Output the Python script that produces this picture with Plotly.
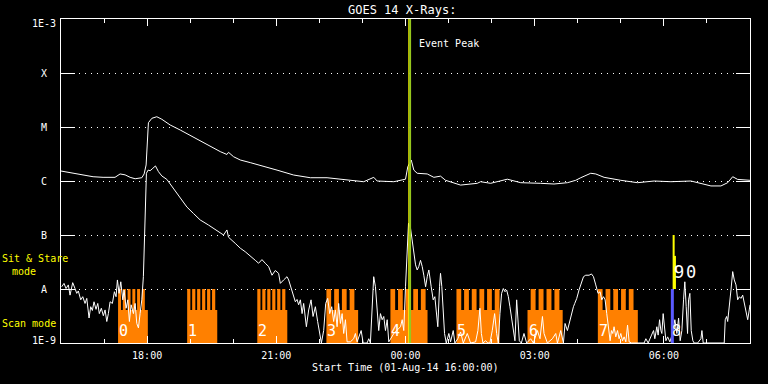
import numpy as np
import pandas as pd
import plotly.graph_objects as go

START = pd.Timestamp("2014-08-01 16:00:00")
END = pd.Timestamp("2014-08-02 08:00:00")

# ---- GOES long channel (1-8 A), minutes after start / flux W m^-2
long_min = [0, 12.6, 26.5, 44.7, 58.6, 75.3, 82.3, 89.3, 96.3, 103.3,
            112.6, 115.8, 118.6, 120.4, 121.8, 126.6, 133.5, 140.5, 152.1, 166.1,
            184.6, 203.3, 221.9, 231.2, 233.4, 240.4, 249.8, 263.7, 282.3, 301.0,
            324.1, 347.4, 370.7, 393.9, 421.8, 435.8, 440.5, 463.7, 480.0, 483.2,
            488.0, 491.6, 496.3, 510.3, 519.5, 528.8, 535.8, 556.7, 580.0, 584.6,
            598.6, 621.9, 640.5, 668.4, 686.9, 705.6, 717.2, 724.2, 738.1, 745.1,
            756.7, 780.0, 803.3, 826.5, 849.8, 877.7, 896.2, 905.6, 919.5, 928.9,
            935.9, 942.8, 960.0]
long_flux = [1.53e-6, 1.43e-6, 1.35e-6, 1.20e-6, 1.17e-6, 1.17e-6, 1.35e-6, 1.30e-6, 1.17e-6, 1.10e-6,
             1.15e-6, 1.35e-6, 1.98e-6, 7.6e-6, 1.20e-5, 1.45e-5, 1.55e-5, 1.39e-5, 1.09e-5, 8.8e-6,
             6.45e-6, 4.64e-6, 3.50e-6, 3.10e-6, 3.40e-6, 2.82e-6, 2.45e-6, 2.19e-6, 1.84e-6, 1.59e-6,
             1.29e-6, 1.15e-6, 1.15e-6, 1.07e-6, 9.7e-7, 1.17e-6, 1.00e-6, 9.7e-7, 1.08e-6, 1.84e-6,
             2.45e-6, 1.59e-6, 1.39e-6, 1.35e-6, 1.17e-6, 1.23e-6, 1.03e-6, 8.4e-7, 9.06e-7, 9.7e-7,
             9.06e-7, 1.08e-6, 9.3e-7, 9.06e-7, 8.8e-7, 9.3e-7, 1.03e-6, 1.15e-6, 1.39e-6, 1.35e-6,
             1.17e-6, 1.03e-6, 9.3e-7, 1.00e-6, 9.7e-7, 1.00e-6, 8.8e-7, 8.1e-7, 8.1e-7, 9.3e-7,
             1.20e-6, 1.07e-6, 1.03e-6]

# ---- GOES short channel (0.5-4 A)
short_min = [
    1.0, 4.2, 7.0, 10.2, 12.6, 16.3, 19.5, 21.9, 24.1, 27.5,
    30.3, 33.5, 35.9, 39.1, 41.4, 43.7, 46.0, 48.8, 51.2, 53.4,
    56.2, 59.0, 61.4, 63.8, 66.0, 68.4, 71.6, 74.4, 76.7, 78.6,
    80.9, 83.3, 86.1, 87.9, 90.7, 93.1, 95.3, 97.7, 100.9, 103.3,
    105.6, 107.9, 110.2, 112.6, 114.8, 116.2, 117.6, 119.0,
    121.4, 124.2, 128.0, 131.6, 135.8, 140.5, 147.5, 156.7, 166.0, 175.4,
    184.6, 193.9, 205.5, 217.3, 226.5, 231.2, 233.4, 242.8, 249.8, 256.7,
    263.7, 270.7, 275.3, 280.0, 284.6, 289.3, 294.0, 298.6, 303.2, 305.6,
    310.2, 314.9, 317.2, 321.9,
    326.5, 328.9, 331.1, 333.5, 335.9, 338.1, 341.9, 345.1, 348.4, 351.2,
    354.4, 357.6, 360.4, 362.8, 366.0, 368.8, 371.6, 374.4, 377.2, 379.9,
    382.3, 384.7, 386.9, 389.3, 391.7, 393.9, 396.3, 398.6, 403.2, 407.8,
    410.2, 412.6, 418.2, 421.0, 426.5, 428.8, 431.1, 433.5, 435.7, 438.1,
    440.5, 442.7, 445.1, 447.5, 449.7, 452.1, 454.5, 456.7, 463.7, 468.4,
    473.0,
    475.4, 477.6, 480.0, 482.4, 484.2, 487.0, 489.3, 491.6, 494.0, 496.3,
    498.5, 500.9, 503.3, 505.5, 508.0, 510.3, 512.5, 515.8, 518.6, 520.9,
    523.2, 525.0, 527.4, 528.8, 530.6, 532.6, 534.4, 536.8, 540.4, 542.8,
    546.5, 548.8, 552.9, 556.7, 560.5, 566.1, 570.7, 577.7, 580.9, 583.7,
    585.7, 587.9, 591.6, 594.8, 597.6, 600.9, 604.2, 607.0, 609.3, 611.6,
    613.9, 616.3, 618.6, 620.9, 623.3, 625.5, 627.9, 630.3, 632.5, 634.9,
    636.7, 638.6, 641.4, 645.1, 648.8, 654.4, 658.2, 663.8, 667.4, 670.8,
    673.0, 677.7, 684.7, 689.3, 691.7, 696.3, 700.0, 702.3, 705.6, 710.2,
    714.0,
    715.8, 718.6, 721.8, 725.2, 728.0, 731.1, 735.8, 739.1, 741.9, 745.1,
    748.3, 751.1, 753.5, 755.9, 758.1, 760.4, 762.8, 765.1, 767.0, 768.8,
    770.6, 773.0, 775.4, 777.6, 780.0, 782.4, 784.6, 787.0, 789.4, 791.6,
    794.9, 803.3, 812.5, 814.9, 818.1, 822.8, 825.6, 827.4, 830.2, 832.0,
    834.0, 835.8, 837.2, 839.0, 841.0, 842.8, 845.2, 848.4, 852.1, 855.3,
    858.1, 860.5, 862.7, 865.1, 867.4, 869.2, 871.1, 873.0, 874.4, 876.2,
    878.1, 880.4, 882.2, 887.0, 891.6, 893.0, 894.8, 901.0, 907.9, 914.9,
    921.9, 924.1, 925.5, 927.5, 928.9, 931.1, 933.5, 935.9, 938.1, 940.5,
    942.8, 945.1, 947.4, 949.8, 952.1, 954.4, 956.8, 959.0, 960.0]
short_flux = [
    1.1e-8, 1.27e-8, 1.02e-8, 1.19e-8, 7.7e-9, 1.31e-8, 1.02e-8, 8.3e-9, 9.2e-9, 6.3e-9,
    7.2e-9, 5.4e-9, 6.7e-9, 2.9e-9, 4.7e-9, 4.0e-9, 5.8e-9, 4.2e-9, 5.4e-9, 3.5e-9,
    4.4e-9, 3.2e-9, 4.1e-9, 2.5e-9, 3.5e-9, 5.8e-9, 5.4e-9, 8.9e-9, 7.2e-9, 1.47e-8,
    8.3e-9, 1.36e-8, 6.3e-9, 9.6e-9, 4.4e-9, 6.3e-9, 2.5e-9, 5.1e-9, 3.5e-9, 5.4e-9,
    2.3e-9, 1.9e-9, 3.5e-9, 6.3e-9, 1.69e-8, 7.0e-8, 4.4e-7, 1.39e-6,
    1.59e-6, 1.55e-6, 1.72e-6, 1.9e-6, 1.49e-6, 1.24e-6, 1.07e-6, 7.3e-7, 4.8e-7, 3.3e-7,
    2.5e-7, 1.9e-7, 1.53e-7, 1.2e-7, 1.0e-7, 1.24e-7, 9.1e-8, 7.0e-8, 5.7e-8, 4.9e-8,
    4.0e-8, 3.4e-8, 3.0e-8, 3.5e-8, 3.0e-8, 2.6e-8, 1.8e-8, 2.2e-8, 1.95e-8, 1.27e-8,
    1.47e-8, 1.69e-8, 1.47e-8, 8.9e-9,
    5.8e-9, 6.4e-9, 5.1e-9, 6.3e-9, 3.5e-9, 5.4e-9, 2.0e-9, 4.1e-9, 6.3e-9, 3.1e-9,
    4.7e-9, 2.5e-9, 1.5e-9, 1.0e-9, 1.7e-9, 5.4e-9, 6.7e-9, 3.5e-9, 4.7e-9, 2.5e-9,
    4.1e-9, 2.0e-9, 5.4e-9, 2.3e-9, 3.5e-9, 1.5e-9, 2.7e-9, 1.05e-9, 1.05e-9, 1.2e-9,
    1.5e-9, 1.05e-9, 1.7e-9, 1.0e-9, 1.0e-9, 1.2e-9, 1.0e-9, 3.5e-9, 1.69e-8, 1.1e-8,
    3.5e-9, 1.7e-9, 3.5e-9, 2.7e-9, 3.1e-9, 1.7e-9, 2.7e-9, 1.05e-9, 1.5e-9, 1.7e-9,
    2.0e-9,
    2.7e-9, 1.7e-9, 1.1e-8, 7.0e-8, 1.65e-7, 1.33e-7, 8.1e-8, 4.0e-8, 2.8e-8, 2.25e-8,
    2.6e-8, 3.4e-8, 2.6e-8, 1.8e-8, 1.1e-8, 1.69e-8, 2.25e-8, 1.1e-8, 6.3e-9, 7.2e-9,
    3.5e-9, 2.0e-9, 1.1e-8, 1.95e-8, 1.1e-8, 3.5e-9, 1.5e-9, 1.0e-9, 1.5e-9, 1.05e-9,
    1.7e-9, 1.0e-9, 1.2e-9, 1.6e-9, 1.0e-9, 1.5e-9, 1.0e-9, 1.05e-9, 1.7e-9, 4.4e-9,
    1.5e-9, 1.0e-9, 1.1e-9, 1.0e-9, 1.0e-9, 1.7e-9, 3.5e-9, 1.5e-9, 1.0e-9, 3.5e-9,
    8.3e-9, 1.02e-8, 8.9e-9, 9.6e-9, 7.2e-9, 4.7e-9, 2.7e-9, 1.5e-9, 1.1e-9, 6.3e-9,
    2.7e-9, 1.1e-9, 1.0e-9, 1.5e-9, 1.0e-9, 1.2e-9, 1.0e-9, 1.7e-9, 1.2e-9, 3.1e-9,
    1.5e-9, 1.0e-9, 1.2e-9, 1.5e-9, 1.0e-9, 1.7e-9, 1.0e-9, 2.3e-9, 1.7e-9, 3.1e-9,
    4.7e-9,
    5.4e-9, 6.7e-9, 9.6e-9, 1.27e-8, 1.69e-8, 1.8e-8, 1.8e-8, 1.9e-8, 1.69e-8, 1.19e-8,
    8.3e-9, 8.9e-9, 6.3e-9, 7.2e-9, 6.3e-9, 3.5e-9, 2.0e-9, 1.1e-9, 1.7e-9, 1.5e-9,
    2.0e-9, 1.3e-9, 1.7e-9, 1.2e-9, 1.5e-9, 1.1e-9, 1.3e-9, 1.05e-9, 2.15e-9, 1.05e-9,
    1.0e-9, 1.0e-9, 1.0e-9, 1.2e-9, 1.0e-9, 1.4e-9, 1.7e-9, 1.2e-9, 2.0e-9, 1.4e-9,
    2.7e-9, 1.7e-9, 1.5e-9, 3.5e-9, 1.7e-9, 1.1e-9, 1.3e-9, 1.05e-9, 1.5e-9, 2.7e-9,
    1.5e-9, 2.9e-9, 1.1e-9, 1.7e-9, 6.3e-9, 1.36e-8, 4.7e-9, 1.5e-9, 6.3e-9, 8.3e-9,
    1.7e-9, 1.1e-9, 1.0e-9, 1.0e-9, 1.2e-9, 1.7e-9, 1.0e-9, 1.0e-9, 1.0e-9, 1.0e-9,
    1.0e-9, 1.0e-9, 2.7e-9, 3.1e-9, 2.5e-9, 4.4e-9, 9.6e-9, 2.1e-8, 1.47e-8, 1.19e-8,
    6.3e-9, 7.2e-9, 6.7e-9, 7.7e-9, 5.4e-9, 4.1e-9, 2.7e-9, 4.1e-9, 5.1e-9]

# ---- observing-mode blocks (minutes after start)
block_labels = ["0", "1", "2", "3", "4", "5", "6", "7"]
scan_start_min = [79.5, 175.8, 273.5, 369.8, 459.0, 551.0, 650.0, 748.0]
scan_end_min = [121.0, 217.7, 315.3, 414.0, 510.7, 611.0, 699.0, 803.7]
stare_start_min = [79.5, 175.8, 273.5, 369.8, 459.0, 551.0, 654.4, 748.0]
stare_end_min = [116.8, 214.9, 312.6, 408.8, 508.0, 611.0, 694.4, 797.7]
stare_steps = [6, 6, 6, 4, 5, 6, 4, 5]
stare_gap_min = [2.5, 2.5, 2.5, 4.2, 4.0, 4.0, 4.2, 4.2]
scan_level = 4.08e-9
stare_level = 1.0e-8
base_level = 5e-10

# ---- markers
event_start_min = 484.6
event_peak_min = 486.4
block8_min = 851.8
block8_top = 1.0e-8
marker_tall_min = 853.6
marker_tall_top = 1.0e-7
marker_short_min = 855.4
marker_short_top = 4.1e-8

ytick_vals = [-9, -8, -7, -6, -5, -4, -3]
ytick_text = ["1E-9", "A", "B", "C", "M", "X", "1E-3"]

FONT = "DejaVu Sans Mono"
ORANGE = "#ff8000"
GREEN = "#96c81e"


def tm(m):
    return START + pd.to_timedelta(np.asarray(m, dtype=float), unit="m")


fig = go.Figure()

for i in range(len(scan_start_min)):
    ss, se = scan_start_min[i], scan_end_min[i]
    cs, ce = stare_start_min[i], stare_end_min[i]
    n, g = stare_steps[i], stare_gap_min[i]
    w = (ce - cs - (n - 1) * g) / n
    xs = [ss]
    ys = [base_level]
    if cs > ss:
        xs += [ss, cs]
        ys += [scan_level, scan_level]
    for k in range(n):
        a = cs + k * (w + g)
        b = a + w
        xs += [a, a, b, b]
        ys += [scan_level, stare_level, stare_level, scan_level]
    xs += [se, se]
    ys += [scan_level, base_level]
    fig.add_trace(go.Scatter(x=tm(xs), y=ys, mode="lines", fill="toself",
                             fillcolor=ORANGE, line=dict(width=0, color=ORANGE),
                             hoverinfo="skip", showlegend=False))

fig.add_trace(go.Scatter(x=tm(long_min), y=long_flux, mode="lines",
                         line=dict(color="white", width=1), showlegend=False))
fig.add_trace(go.Scatter(x=tm(short_min), y=short_flux, mode="lines",
                         line=dict(color="white", width=1), showlegend=False))

fig.add_trace(go.Scatter(x=tm([block8_min, block8_min]), y=[base_level, block8_top],
                         mode="lines", line=dict(color="#5a5aff", width=3), showlegend=False))
fig.add_trace(go.Scatter(x=tm([marker_tall_min, marker_tall_min]), y=[stare_level, marker_tall_top],
                         mode="lines", line=dict(color="#ffff00", width=2), showlegend=False))
fig.add_trace(go.Scatter(x=tm([marker_short_min, marker_short_min]), y=[stare_level, marker_short_top],
                         mode="lines", line=dict(color="#ffff00", width=2), showlegend=False))

fig.add_shape(type="line", xref="x", yref="paper", x0=tm([event_start_min])[0], x1=tm([event_start_min])[0],
              y0=0, y1=1, line=dict(color="#ffff00", width=1))
fig.add_shape(type="line", xref="x", yref="paper", x0=tm([event_peak_min])[0], x1=tm([event_peak_min])[0],
              y0=0, y1=1, line=dict(color=GREEN, width=2))

ann = []
for v, t in zip(ytick_vals, ytick_text):
    if t.startswith("1E"):
        ann.append(dict(x=0, xref="paper", y=v, yref="y", text=t, showarrow=False,
                        xanchor="right", yanchor="middle", xshift=-3, yshift=(-4 if v == -3 else 3),
                        font=dict(family=FONT, size=10, color="white")))
    else:
        ann.append(dict(x=0, xref="paper", y=v, yref="y", text=t, showarrow=False,
                        xanchor="center", yanchor="middle", xshift=-17,
                        font=dict(family=FONT, size=10, color="white")))

ann.append(dict(x=0, xref="paper", y=(343 - 258) / 324, yref="paper", text="Sit & Stare",
                showarrow=False, xanchor="center", yanchor="middle", xshift=-26.5,
                font=dict(family=FONT, size=10, color="#ffff00")))
ann.append(dict(x=0, xref="paper", y=(343 - 271.5) / 324, yref="paper", text="mode",
                showarrow=False, xanchor="center", yanchor="middle", xshift=-37,
                font=dict(family=FONT, size=10, color="#ffff00")))
ann.append(dict(x=0, xref="paper", y=(343 - 323.5) / 324, yref="paper", text="Scan mode",
                showarrow=False, xanchor="center", yanchor="middle", xshift=-32.5,
                font=dict(family=FONT, size=10, color="#ffff00")))

for lab, s in zip(block_labels, scan_start_min):
    ann.append(dict(x=tm([s])[0], xref="x", y=(343 - 331) / 324, yref="paper", text=lab,
                    showarrow=False, xanchor="left", yanchor="middle", xshift=-1,
                    font=dict(family=FONT, size=15, color="white")))
ann.append(dict(x=tm([block8_min])[0], xref="x", y=(343 - 331) / 324, yref="paper", text="8",
                showarrow=False, xanchor="left", yanchor="middle", xshift=-2,
                font=dict(family=FONT, size=15, color="white")))
ann.append(dict(x=tm([block8_min])[0], xref="x", y=(343 - 272) / 324, yref="paper", text="9",
                showarrow=False, xanchor="left", yanchor="middle", xshift=0,
                font=dict(family=FONT, size=17, color="white")))
ann.append(dict(x=tm([block8_min])[0], xref="x", y=(343 - 272) / 324, yref="paper", text="0",
                showarrow=False, xanchor="left", yanchor="middle", xshift=12,
                font=dict(family=FONT, size=17, color="white")))

ann.append(dict(x=tm([event_peak_min])[0], xref="x", y=(343 - 43) / 324, yref="paper",
                text="Event Peak", showarrow=False, xanchor="left", yanchor="middle", xshift=7,
                font=dict(family=FONT, size=10, color="white")))
ann.append(dict(x=(402 - 61) / 689, xref="paper", y=1 + (19 - 10) / 324, yref="paper",
                text="GOES 14 X-Rays:", showarrow=False, xanchor="center", yanchor="middle",
                font=dict(family=FONT, size=12, color="white")))
ann.append(dict(x=(405 - 61) / 689, xref="paper", y=-(368 - 343) / 324, yref="paper",
                text="Start Time (01-Aug-14 16:00:00)", showarrow=False, xanchor="center",
                yanchor="middle", font=dict(family=FONT, size=10, color="white")))

fig.update_layout(
    width=768, height=384,
    margin=dict(l=61, r=18, t=19, b=41),
    paper_bgcolor="black", plot_bgcolor="black",
    showlegend=False,
    annotations=ann,
    xaxis=dict(type="date", range=[START, END], showgrid=False, zeroline=False,
               showline=True, linecolor="white", linewidth=1, mirror="ticks",
               ticks="inside", ticklen=7, tickwidth=1, tickcolor="white",
               tick0="2014-08-01 00:00", dtick=3 * 3600000, tickformat="%H:%M",
               ticklabelstandoff=3,
               tickfont=dict(family=FONT, size=10, color="white"),
               minor=dict(dtick=3600000, ticks="inside", ticklen=4, tickwidth=1,
                          tickcolor="white", showgrid=False)),
    yaxis=dict(type="log", range=[-9, -3], zeroline=False,
               showline=True, linecolor="white", linewidth=1, mirror="ticks",
               ticks="inside", ticklen=14, tickwidth=1, tickcolor="white",
               tickvals=[10.0 ** v for v in ytick_vals], showticklabels=False,
               showgrid=True, gridcolor="white", gridwidth=1, griddash="1px,5px"),
)

fig.write_html("out.html", config={"displayModeBar": False},
               post_script="document.body.style.margin='0';document.body.style.background='black';")
